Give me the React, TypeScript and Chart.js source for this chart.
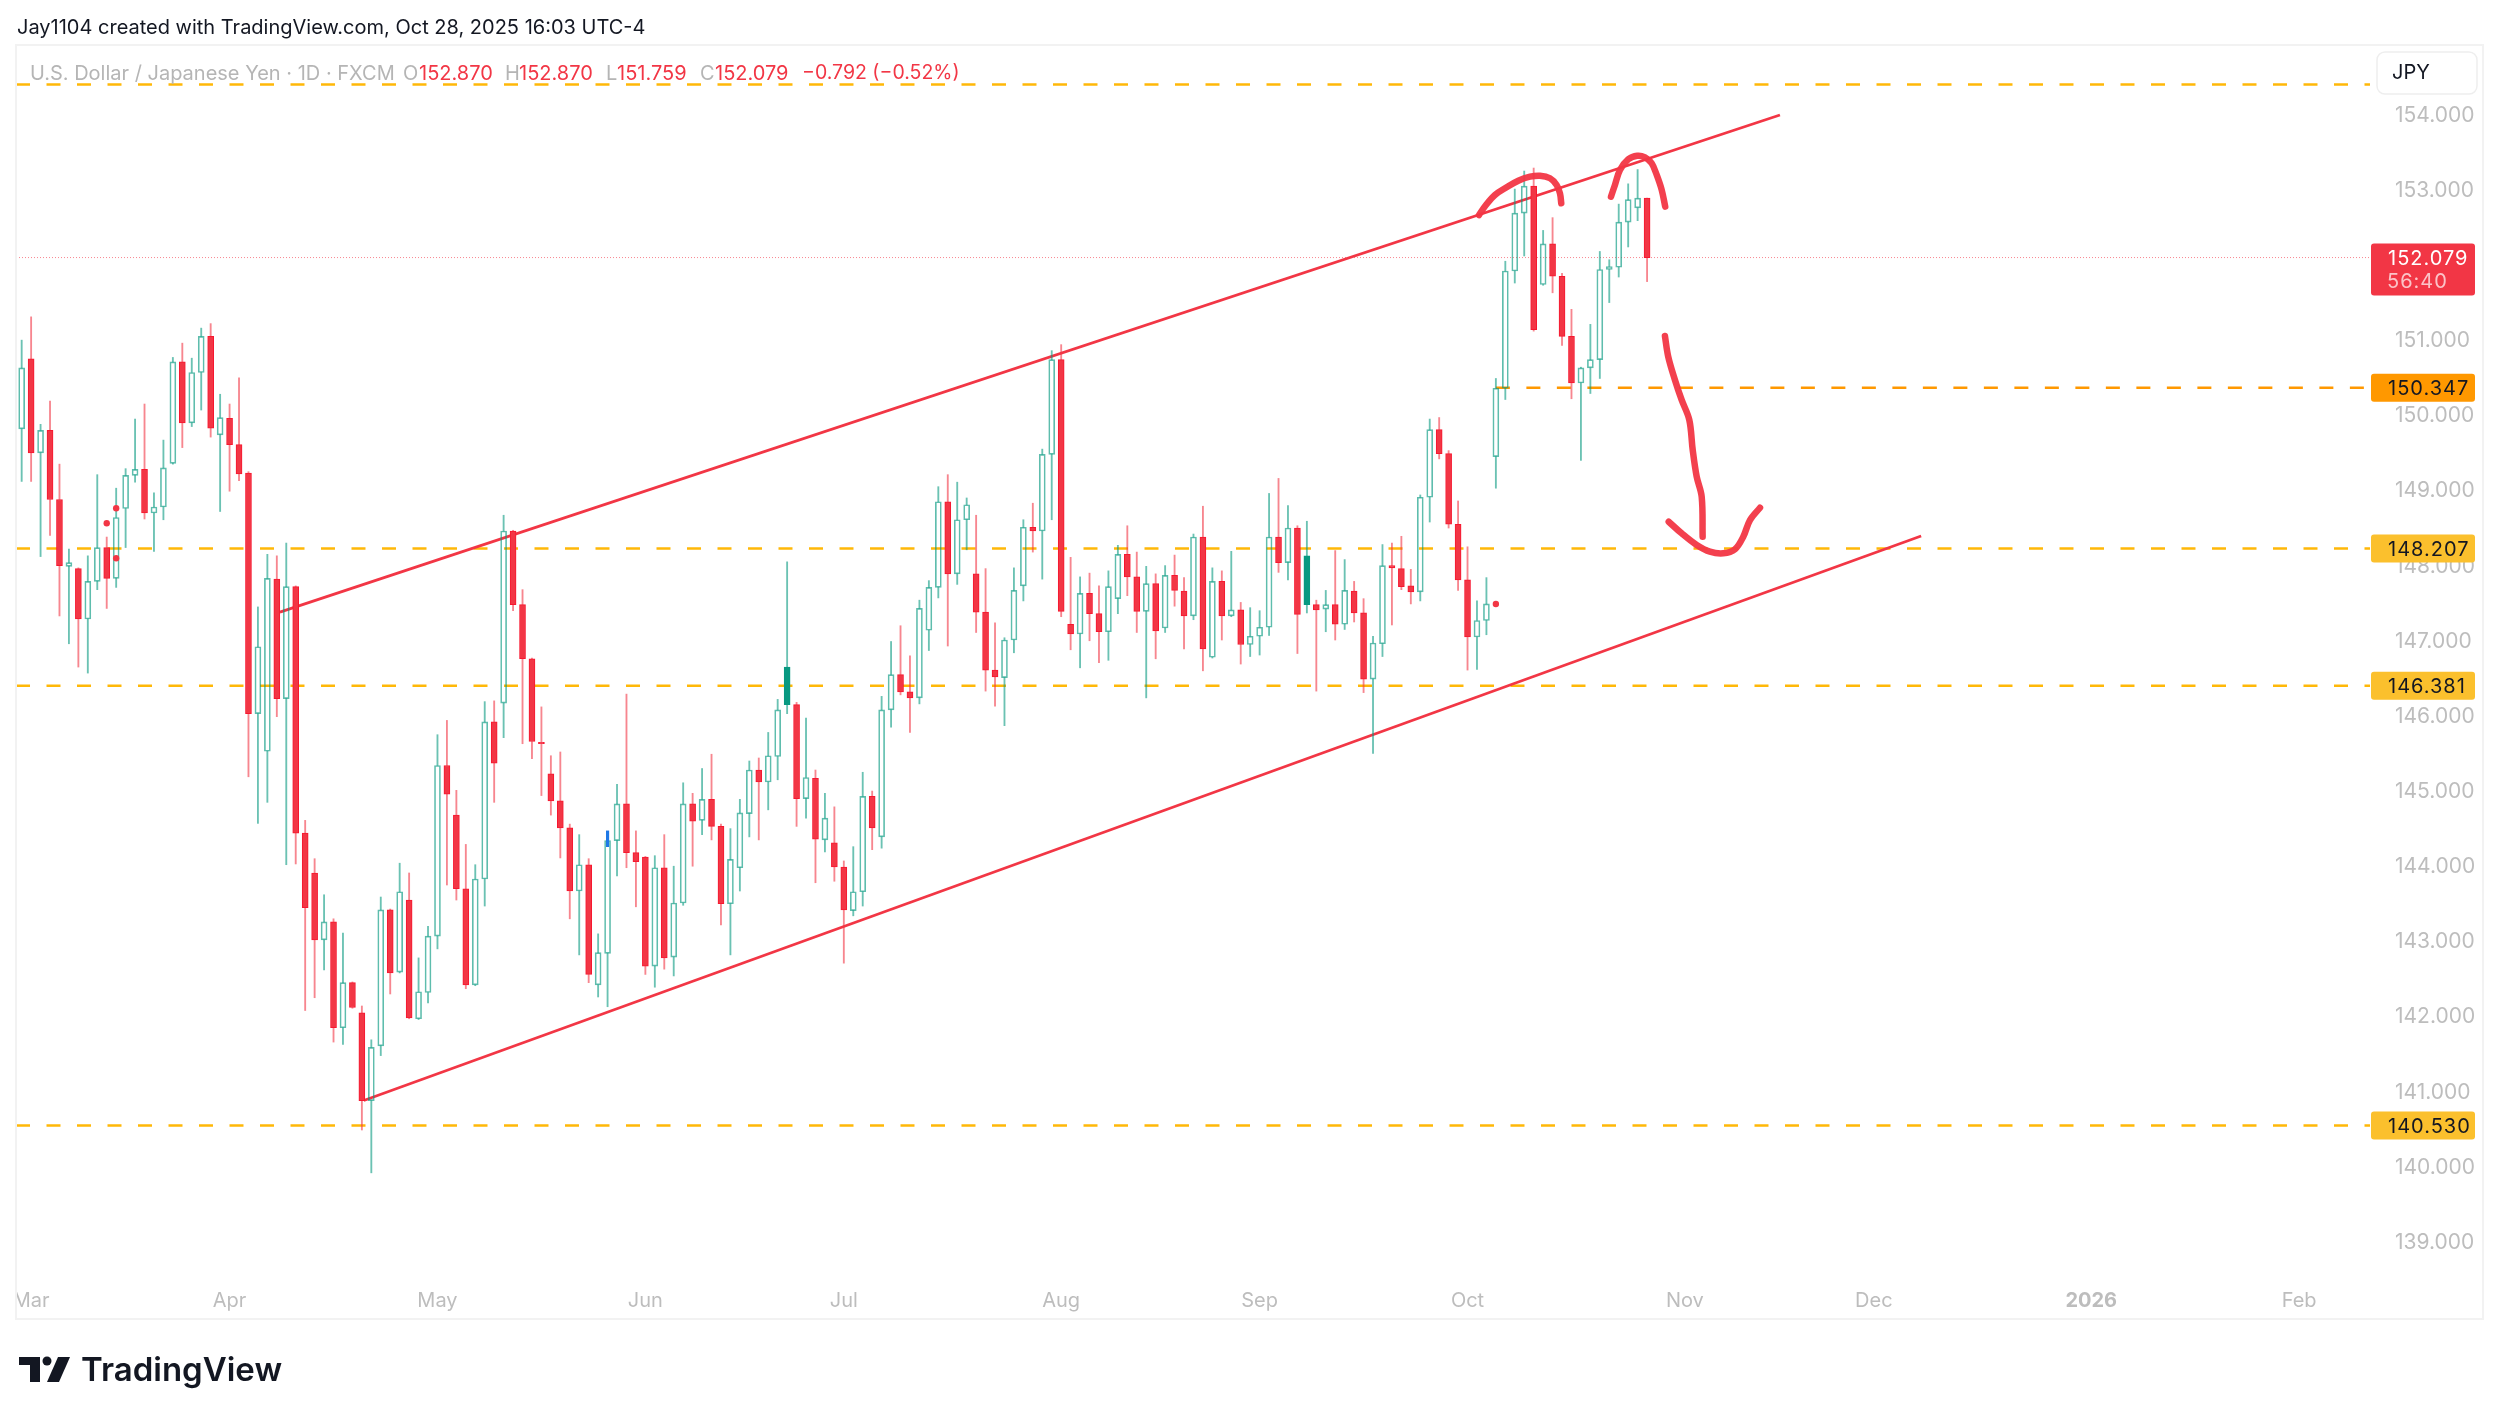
import * as React from 'react';
import Chart from 'chart.js/auto';

// daily candles, index 0 = Feb 28 2025 .. index 172 = Oct 28 2025
const opens = [
  149.80, 150.73, 149.48, 149.78, 148.86, 147.97, 147.94, 147.27, 147.77, 148.22,
  147.81, 148.74, 149.18, 149.26, 148.68, 148.76, 149.34, 150.69, 149.88, 150.55,
  151.03, 149.72, 149.94, 149.59, 149.21, 146.01, 145.51, 147.80, 146.21, 147.70,
  144.42, 143.89, 143.00, 143.24, 141.83, 142.43, 142.03, 140.86, 141.59, 143.40,
  142.57, 143.53, 141.95, 142.30, 143.05, 145.32, 144.66, 143.68, 142.40, 143.81,
  145.90, 146.15, 148.44, 147.46, 146.74, 145.63, 145.21, 144.85, 144.49, 143.65,
  144.00, 142.40, 142.82, 144.32, 144.81, 144.16, 144.10, 142.65, 143.96, 142.77,
  143.49, 144.81, 144.59, 144.87, 144.51, 143.48, 143.96, 144.68, 145.26, 145.10,
  145.44, 146.13, 146.13, 144.88, 145.15, 144.33, 144.29, 143.97, 143.39, 143.64,
  144.91, 144.37, 146.06, 146.53, 146.30, 146.22, 147.12, 147.69, 148.83, 147.87,
  148.59, 147.87, 147.36, 146.59, 146.49, 146.99, 147.71, 148.49, 148.44, 149.46,
  150.72, 147.20, 147.07, 147.61, 147.34, 147.10, 147.54, 148.13, 147.83, 147.37,
  147.74, 147.15, 147.85, 147.64, 147.31, 148.36, 146.76, 147.77, 147.31, 147.39,
  146.93, 147.04, 147.16, 148.36, 148.02, 148.48, 147.46, 147.46, 147.40, 147.46,
  147.20, 147.64, 147.35, 146.47, 146.94, 147.98, 147.94, 147.71, 147.63, 148.89,
  149.79, 149.47, 148.53, 147.79, 147.03, 147.25, 149.43, 150.34, 151.90, 152.67,
  153.03, 151.72, 152.26, 151.83, 151.03, 150.41, 150.61, 150.72, 151.92, 151.95,
  152.55, 152.74, 152.87,
];
const highs = [
  150.98, 151.29, 149.86, 150.17, 149.33, 148.20, 147.95, 148.11, 149.19, 148.36,
  149.01, 149.27, 149.93, 150.13, 148.95, 149.65, 150.75, 150.94, 150.74, 151.14,
  151.20, 150.26, 150.13, 150.48, 149.23, 147.43, 148.13, 148.11, 148.28, 147.71,
  144.59, 144.08, 143.60, 143.28, 143.09, 142.44, 142.12, 141.67, 143.57, 143.41,
  144.02, 143.89, 142.76, 143.18, 145.73, 145.92, 144.99, 144.27, 144.00, 146.17,
  146.18, 148.65, 148.45, 147.66, 146.75, 146.10, 145.45, 145.50, 144.54, 144.40,
  144.08, 143.08, 144.33, 145.07, 146.27, 144.45, 144.11, 144.12, 144.40, 143.98,
  145.09, 144.95, 145.28, 145.47, 144.54, 144.48, 144.87, 145.38, 145.42, 145.76,
  146.20, 148.03, 146.16, 145.95, 145.26, 144.95, 144.77, 144.05, 144.24, 145.23,
  144.98, 146.24, 146.97, 147.18, 146.78, 147.52, 147.78, 149.03, 149.19, 149.09,
  148.88, 148.65, 147.94, 147.22, 147.02, 147.95, 148.59, 148.81, 149.53, 150.84,
  150.92, 148.09, 147.83, 147.88, 147.71, 147.91, 148.25, 148.51, 148.16, 147.97,
  147.87, 147.98, 148.12, 147.82, 148.40, 148.77, 147.95, 147.91, 148.17, 147.49,
  147.42, 147.38, 148.94, 149.14, 148.78, 148.51, 148.57, 147.52, 147.65, 148.18,
  148.06, 147.77, 147.54, 147.04, 148.26, 148.28, 148.37, 147.93, 148.92, 149.93,
  149.95, 149.51, 148.84, 148.23, 147.51, 147.82, 150.47, 152.03, 152.99, 153.23,
  153.27, 152.44, 152.61, 151.87, 151.39, 150.62, 151.19, 152.16, 152.05, 152.79,
  153.06, 153.25, 152.87,
];
const lows = [
  149.10, 149.10, 148.10, 148.38, 147.31, 146.94, 146.63, 146.55, 147.66, 147.41,
  147.69, 148.22, 149.09, 148.60, 148.17, 148.59, 149.33, 149.55, 149.83, 150.05,
  149.69, 148.70, 148.97, 149.11, 145.17, 144.55, 144.83, 145.97, 144.00, 144.01,
  142.06, 142.23, 142.60, 141.64, 141.61, 142.09, 140.47, 139.90, 141.46, 142.28,
  142.56, 141.95, 141.94, 142.16, 142.88, 143.73, 143.53, 142.35, 142.39, 143.45,
  144.83, 145.69, 147.38, 145.61, 145.41, 144.92, 144.66, 144.09, 143.28, 142.80,
  142.43, 142.24, 142.11, 143.85, 143.96, 143.44, 142.54, 142.37, 142.61, 142.52,
  143.46, 143.98, 144.40, 144.33, 143.20, 142.80, 143.65, 144.37, 144.33, 144.73,
  145.13, 146.01, 144.51, 144.62, 143.76, 144.17, 143.78, 142.69, 143.32, 143.45,
  144.20, 144.22, 145.83, 146.26, 145.76, 146.14, 146.85, 147.55, 146.91, 147.73,
  148.19, 147.09, 146.31, 146.11, 145.85, 146.82, 147.51, 148.16, 147.80, 148.59,
  147.30, 146.86, 146.62, 146.98, 146.69, 146.72, 147.34, 147.58, 147.09, 146.22,
  146.74, 147.09, 147.44, 146.87, 147.26, 146.58, 146.75, 146.99, 147.30, 146.67,
  146.77, 146.79, 147.05, 147.89, 147.79, 146.81, 147.35, 146.31, 147.10, 146.99,
  147.13, 147.23, 146.29, 145.48, 146.77, 147.19, 147.66, 147.47, 147.51, 148.56,
  149.40, 148.48, 147.65, 146.59, 146.60, 147.06, 149.01, 150.19, 151.74, 152.10,
  151.10, 151.71, 151.61, 150.91, 150.20, 149.38, 150.27, 150.47, 151.48, 151.82,
  152.22, 152.57, 151.759,
];
const closes = [
  150.61, 149.48, 149.78, 148.86, 147.98, 148.02, 147.27, 147.77, 148.22, 147.81,
  148.62, 149.18, 149.26, 148.68, 148.76, 149.28, 150.69, 149.88, 150.55, 151.03,
  149.81, 149.95, 149.59, 149.20, 146.01, 146.90, 147.81, 146.21, 147.70, 144.42,
  143.43, 143.00, 143.24, 141.83, 142.43, 142.10, 140.86, 141.57, 143.40, 142.56,
  143.64, 141.96, 142.31, 143.05, 145.32, 144.94, 143.68, 142.40, 143.81, 145.90,
  145.35, 148.44, 147.46, 146.74, 145.64, 145.61, 144.85, 144.49, 143.65, 144.00,
  142.54, 142.83, 144.32, 144.81, 144.16, 144.04, 142.65, 143.96, 142.76, 143.49,
  144.81, 144.58, 144.87, 144.51, 143.48, 144.07, 144.69, 145.26, 145.10, 145.45,
  146.06, 146.63, 144.88, 145.16, 144.34, 144.62, 143.97, 143.40, 143.64, 144.91,
  144.49, 146.06, 146.53, 146.30, 146.22, 147.41, 147.69, 148.83, 147.87, 148.59,
  148.79, 147.36, 146.59, 146.50, 146.99, 147.65, 148.49, 148.44, 149.46, 150.72,
  147.37, 147.07, 147.61, 147.34, 147.10, 147.70, 148.13, 147.83, 147.37, 147.74,
  147.11, 147.85, 147.65, 147.31, 148.36, 146.87, 147.77, 147.31, 147.39, 146.93,
  147.04, 147.16, 148.36, 148.02, 148.48, 147.33, 148.11, 147.39, 147.46, 147.20,
  147.65, 147.35, 146.47, 146.95, 147.98, 147.95, 147.70, 147.63, 148.89, 149.79,
  149.47, 148.53, 147.79, 147.03, 147.25, 147.47, 150.34, 151.90, 152.67, 153.03,
  151.12, 152.26, 151.83, 151.03, 150.41, 150.61, 150.72, 151.92, 151.96, 152.55,
  152.85, 152.87, 152.079,
];
const filledGreen = [81, 136];

const priceTicks = [139, 140, 141, 142, 143, 144, 145, 146, 147, 148, 149, 150, 151, 152, 153, 154];
const monthLabels = ['Mar', 'Apr', 'May', 'Jun', 'Jul', 'Aug', 'Sep', 'Oct', 'Nov', 'Dec', '2026', 'Feb'];
const monthIndex = [1, 22, 44, 66, 87, 110, 131, 153, 176, 196, 219, 241];

const supportLevels = [154.383, 148.207, 146.381, 140.53];
const orangeLevel = 150.347;
const lastPrice = 152.079;

// drawings, [candle index, price]
const upperChannel = [[27.33, 147.362], [186.06, 153.976]];
const lowerChannel = [[36.2, 140.862], [201, 148.374]];
const clickDots = [[9, 148.543], [10, 148.743], [10, 148.077], [156, 147.469]];
const blueTick = [62, 144.24, 144.45];
const brushStrokes = [
  [[154.21, 152.645], [154.95, 152.778], [155.9, 152.912], [157.14, 153.014], [158.37, 153.102], [159.61, 153.155], [160.67, 153.168], [161.73, 153.134], [162.43, 153.045], [162.78, 152.934], [162.92, 152.801]],
  [[168.18, 152.889], [168.6, 153.045], [169.13, 153.244], [170.01, 153.386], [170.96, 153.434], [171.78, 153.413], [172.49, 153.333], [173.02, 153.178], [173.55, 152.978], [173.92, 152.756]],
  [[173.89, 151.035], [174.24, 150.76], [174.95, 150.45], [175.66, 150.184], [176.47, 149.917], [176.83, 149.518], [177.25, 149.163], [177.78, 148.896], [177.88, 148.364]],
  [[174.29, 148.564], [175.66, 148.409], [177.25, 148.254], [178.65, 148.165], [180.06, 148.143], [181.3, 148.197], [182.18, 148.364], [182.89, 148.586], [183.95, 148.75]],
];

const RED = '#f23645';
const GREEN = '#089981';
const FONT = 'Inter, sans-serif';
const X_MIN = -0.6;
const X_MAX = 248.5;
// tick text sits a little high with a middle baseline, nudge it down on the price scale
const TICK_NUDGE = 0.028;

const toXY = (pts: number[][]) => pts.map(([x, y]) => ({ x, y }));
const isUp = (i: number) => closes[i] >= opens[i];

const decorPlugin = {
  id: 'decor',
  afterDraw(chart: any) {
    const { ctx } = chart;
    const y = chart.scales.y;
    const text = (s: string, x: number, yy: number, color: string, font = `20px ${FONT}`) => {
      ctx.font = font;
      ctx.fillStyle = color;
      ctx.textBaseline = 'middle';
      ctx.textAlign = 'left';
      ctx.fillText(s, x, yy);
    };
    const box = (x: number, yy: number, w: number, h: number, color: string, r = 3) => {
      ctx.fillStyle = color;
      ctx.beginPath();
      ctx.roundRect(x, yy, w, h, r);
      ctx.fill();
    };

    ctx.save();
    // cut the first month label at the pane edge, then the pane frame
    ctx.fillStyle = '#ffffff';
    ctx.fillRect(0, 1285, 16, 30);
    ctx.strokeStyle = '#f2f2f2';
    ctx.lineWidth = 2;
    ctx.strokeRect(16, 45, 2467, 1274);

    text('Jay1104 created with TradingView.com, Oct 28, 2025 16:03 UTC-4', 17, 27.5, '#131722');

    text('U.S. Dollar / Japanese Yen · 1D · FXCM', 30, 73.5, '#b5b5b5');
    text('O', 403, 73.5, '#b5b5b5');
    text('152.870', 419, 73.5, RED);
    text('H', 505, 73.5, '#b5b5b5');
    text('152.870', 519, 73.5, RED);
    text('L', 606, 73.5, '#b5b5b5');
    text('151.759', 617, 73.5, RED);
    text('C', 700, 73.5, '#b5b5b5');
    text('152.079', 715, 73.5, RED);
    text('−0.792 (−0.52%)', 802, 73.5, RED, `19.5px ${FONT}`);

    // currency button
    ctx.strokeStyle = '#eeeeee';
    ctx.lineWidth = 1.5;
    ctx.beginPath();
    ctx.roundRect(2377, 52, 100, 42, 8);
    ctx.stroke();
    text('JPY', 2392, 73, '#131722');

    // price labels
    ctx.letterSpacing = '1px';
    const last = y.getPixelForValue(lastPrice);
    box(2371, last - 14, 104, 52, RED);
    text('152.079', 2388, last + 1.5, '#ffffff');
    text('56:40', 2387, last + 24.5, 'rgba(255,255,255,0.7)');
    const orange = y.getPixelForValue(orangeLevel);
    box(2371, orange - 14, 104, 28, '#ff9800');
    text('150.347', 2388, orange + 1.5, '#131722');
    [supportLevels[1], supportLevels[2], supportLevels[3]].forEach((lvl) => {
      const py = y.getPixelForValue(lvl);
      box(2371, py - 14, 104, 28, '#fbc02d');
      text(lvl.toFixed(3), 2388, py + 1.5, '#131722');
    });
    ctx.letterSpacing = '0px';

    // logo
    ctx.fillStyle = '#131722';
    ctx.fillRect(19, 1357, 21, 8);
    ctx.fillRect(30, 1357, 10, 25);
    ctx.beginPath();
    ctx.arc(47, 1361, 4.5, 0, Math.PI * 2);
    ctx.fill();
    ctx.beginPath();
    ctx.moveTo(58, 1357);
    ctx.lineTo(70, 1357);
    ctx.lineTo(59, 1382);
    ctx.lineTo(47, 1382);
    ctx.closePath();
    ctx.fill();
    text('TradingView', 81, 1371, '#131722', `600 33px ${FONT}`);
    ctx.restore();
  },
};

export default function App() {
  const canvasRef = React.useRef<HTMLCanvasElement>(null);

  React.useEffect(() => {
    const upperWicks = opens.map((o, i) => ({ x: i, y: [Math.max(o, closes[i]), highs[i]] }));
    const lowerWicks = opens.map((o, i) => ({ x: i, y: [lows[i], Math.min(o, closes[i])] }));
    const bodies = opens.map((o, i) => ({ x: i, y: [o, closes[i]] }));
    const wickColors = opens.map((_, i) => (isUp(i) ? 'rgba(8,153,129,0.6)' : 'rgba(242,54,69,0.6)'));

    const lineBase = { type: 'line', pointRadius: 0, fill: false, tension: 0 };

    const chart = new Chart(canvasRef.current!, {
      type: 'bar',
      plugins: [decorPlugin],
      data: {
        datasets: [
          ...brushStrokes.map((stroke) => ({
            ...lineBase,
            data: toXY(stroke),
            borderColor: 'rgba(242,54,69,0.95)',
            borderWidth: 6.5,
            borderCapStyle: 'round',
            borderJoinStyle: 'round',
            tension: 0.35,
            order: 0,
          })),
          {
            ...lineBase,
            data: toXY(clickDots),
            showLine: false,
            pointRadius: 3.2,
            pointBackgroundColor: RED,
            pointBorderWidth: 0,
            order: 1,
          },
          {
            type: 'bar',
            data: [{ x: blueTick[0], y: [blueTick[1], blueTick[2]] }],
            backgroundColor: '#1e78e6',
            barThickness: 2.5,
            order: 1,
          },
          {
            type: 'bar',
            data: bodies,
            barThickness: 6,
            backgroundColor: opens.map((_, i) => (isUp(i) ? (filledGreen.includes(i) ? GREEN : 'rgba(255,255,255,0)') : RED)),
            borderColor: opens.map((_, i) => (isUp(i) ? (filledGreen.includes(i) ? GREEN : 'rgba(8,153,129,0.65)') : '#f7172f')),
            borderWidth: 1,
            borderSkipped: false,
            order: 2,
          },
          { type: 'bar', data: upperWicks, barThickness: 1.2, backgroundColor: wickColors, order: 3 },
          { type: 'bar', data: lowerWicks, barThickness: 1.2, backgroundColor: wickColors, order: 3 },
          ...[upperChannel, lowerChannel].map((seg) => ({
            ...lineBase,
            data: toXY(seg),
            borderColor: RED,
            borderWidth: 2.8,
            order: 4,
          })),
          ...supportLevels.map((lvl) => ({
            ...lineBase,
            data: toXY([[X_MIN, lvl], [X_MAX, lvl]]),
            borderColor: '#ffb808',
            borderWidth: 2.5,
            borderDash: [14, 16.5],
            order: 5,
          })),
          {
            ...lineBase,
            data: toXY([[156, orangeLevel], [X_MAX, orangeLevel]]),
            borderColor: '#ff9800',
            borderWidth: 2.5,
            borderDash: [14, 16.5],
            order: 5,
          },
          {
            ...lineBase,
            data: toXY([[X_MIN, lastPrice], [X_MAX, lastPrice]]),
            borderColor: 'rgba(242,54,69,0.6)',
            borderWidth: 1,
            borderDash: [1, 2],
            order: 6,
          },
        ] as any,
      },
      options: {
        animation: false,
        responsive: false,
        layout: { autoPadding: false, padding: { left: 16, top: 46, right: 0, bottom: 0 } },
        datasets: { bar: { grouped: false } },
        plugins: { legend: { display: false }, tooltip: { enabled: false } },
        scales: {
          x: {
            type: 'linear',
            offset: false,
            min: X_MIN,
            max: X_MAX,
            grid: { display: false },
            border: { display: false },
            afterBuildTicks: (scale: any) => {
              scale.ticks = monthIndex.map((value) => ({ value }));
            },
            afterFit: (scale: any) => {
              scale.height = 140;
            },
            ticks: {
              autoSkip: false,
              maxRotation: 0,
              padding: 1,
              color: '#bdbdbd',
              font: (ctx: any) => ({
                family: FONT,
                size: 20,
                weight: ctx.tick && ctx.tick.value === 219 ? 'bold' : 'normal',
              }),
              callback: (value: any) => monthLabels[monthIndex.indexOf(value)],
            },
          },
          y: {
            type: 'linear',
            position: 'right',
            min: 138.474,
            max: 154.894,
            grid: { display: false },
            border: { display: false },
            afterBuildTicks: (scale: any) => {
              scale.ticks = priceTicks.map((value) => ({ value: value - TICK_NUDGE }));
            },
            afterFit: (scale: any) => {
              scale.width = 130;
            },
            ticks: {
              padding: 17,
              color: '#bdbdbd',
              font: { family: FONT, size: 21 },
              callback: (value: any) => Math.round(Number(value)).toFixed(3),
            },
          },
        },
      } as any,
    });

    return () => {
      chart.destroy();
    };
  }, []);

  return (
    <div style={{ position: 'absolute', left: 0, top: 0, width: 2500, height: 1420, background: '#fff' }}>
      <canvas ref={canvasRef} width={2500} height={1420} style={{ display: 'block' }}></canvas>
    </div>
  );
}
